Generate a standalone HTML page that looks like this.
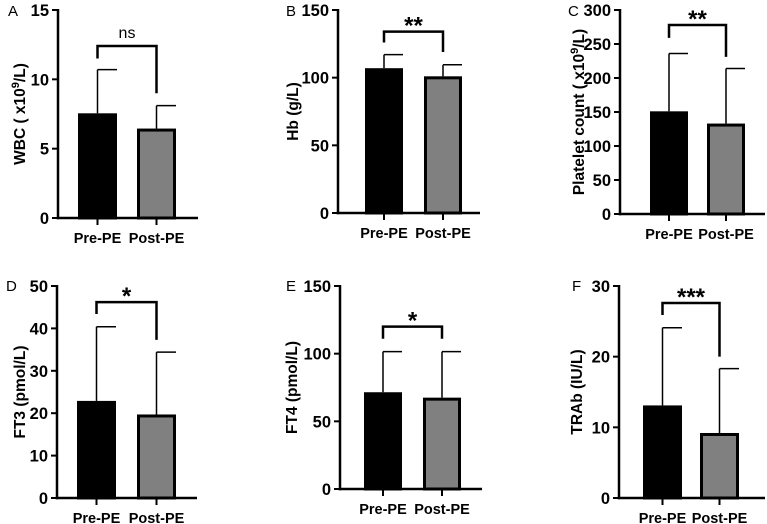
<!DOCTYPE html>
<html><head><meta charset="utf-8"><style>
body{margin:0;background:#fff}
svg{display:block;font-family:"Liberation Sans",Arial,sans-serif}
</style></head><body>
<svg id="fig" width="767" height="524" viewBox="0 0 767 524" xmlns="http://www.w3.org/2000/svg"></svg>
<script>
const categories = ["Pre-PE","Post-PE"];
const panelLetters = ["A","B","C","D","E","F"];
const yTitles = ["WBC ( x10^9/L)","Hb (g/L)","Platelet count ( x10^9/L)","FT3 (pmol/L)","FT4 (pmol/L)","TRAb (IU/L)"];
const yMaxes = [15,150,300,50,150,30];
const yTicks = [[0,5,10,15],[0,50,100,150],[0,50,100,150,200,250,300],[0,10,20,30,40,50],[0,50,100,150],[0,10,20,30]];
const meanValues = [[7.55,6.45],[107,101],[151,133],[22.9,19.7],[71.5,67.5],[13.1,9.2]];
const errorTops = [[10.7,8.1],[117,109.5],[236,214],[40.4,34.4],[101.5,101.5],[24.1,18.3]];
const sigLabels = ["ns","**","**","*","*","***"];
// bracket [top, leftEnd, rightEnd] in data units
const brackets = [[12.4,11.5,9.0],[134,126,119],[278,259,231],[46.2,43.4,37.3],[120,111,111],[27.6,25.9,20.0]];

// layout (pixels)
const L = [
 {ax:58, y0:218, yTop:10, b1:78, b2:137, bw:39, xEnd:198, tx:20, lx:8,  ly:16},
 {ax:338,y0:213, yTop:10, b1:365,b2:424, bw:38, xEnd:480, tx:293,lx:286,ly:16},
 {ax:620,y0:214, yTop:10, b1:650,b2:707, bw:38, xEnd:765, tx:579,lx:568,ly:16},
 {ax:57, y0:498, yTop:286,b1:77, b2:137, bw:39, xEnd:197, tx:20, lx:6,  ly:291},
 {ax:340,y0:489, yTop:286,b1:364,b2:423, bw:38, xEnd:482, tx:292,lx:286,ly:291},
 {ax:619,y0:498, yTop:286,b1:643,b2:700, bw:39, xEnd:765, tx:577,lx:572,ly:291}
];
const NS="http://www.w3.org/2000/svg";
const svg=document.getElementById('fig');
function mk(tag,attrs,parent){const e=document.createElementNS(NS,tag);for(const k in attrs)e.setAttribute(k,attrs[k]);(parent||svg).appendChild(e);return e;}

panelLetters.forEach((letter,i)=>{
  const g=mk('g',{});
  
  
  const p=L[i];
  const y=v=>p.y0-(v/yMaxes[i])*(p.y0-p.yTop);
  const lt=mk('text',{x:p.lx,y:p.ly,'font-size':15,fill:'#000'},g);lt.textContent=letter;
  
  
  const bx=[p.b1,p.b2], fills=['#000','#808080'];
  categories.forEach((c,j)=>{
    const cx=bx[j]+p.bw/2;
    const el=mk('line',{x1:cx,x2:cx,y1:y(meanValues[i][j]),y2:y(errorTops[i][j]),stroke:'#000','stroke-width':1.5},g);
    
    
    const cap=mk('line',{x1:cx,x2:cx+p.bw/2,y1:y(errorTops[i][j]),y2:y(errorTops[i][j]),stroke:'#000','stroke-width':1.5},g);
    
    
    const r=mk('rect',{x:bx[j]+1.5,y:y(meanValues[i][j])+1.5,width:p.bw-3,height:p.y0-y(meanValues[i][j])-1.5,fill:fills[j],stroke:'#000','stroke-width':3},g);
    
    
    mk('line',{x1:cx,x2:cx,y1:p.y0,y2:p.y0+7,stroke:'#000','stroke-width':2},g);
    const t=mk('text',{x:cx,y:p.y0+25,'font-size':14.5,'font-weight':'bold','text-anchor':'middle'},g);t.textContent=c;
    
    
  });
  const ya=mk('line',{x1:p.ax,x2:p.ax,y1:p.yTop-1,y2:p.y0+1.25,stroke:'#000','stroke-width':2.5},g);
  
  
  const xa=mk('line',{x1:p.ax-1.25,x2:p.xEnd,y1:p.y0,y2:p.y0,stroke:'#000','stroke-width':2.5},g);
  
  
  yTicks[i].forEach(v=>{
    mk('line',{x1:p.ax-6,x2:p.ax,y1:y(v),y2:y(v),stroke:'#000','stroke-width':2},g);
    const t=mk('text',{x:p.ax-9,y:y(v)+6,'font-size':16.5,'font-weight':'bold','text-anchor':'end'},g);t.textContent=v;
    
    
  });
  const cyT=(p.y0+p.yTop)/2;
  const tt=mk('text',{x:0,y:0,'font-size':15.5,'font-weight':'bold','text-anchor':'middle',transform:`translate(${p.tx+5},${cyT}) rotate(-90)`},g);
  
  
  const parts=yTitles[i].split('^');
  if(parts.length>1){
    const rest=parts[1].slice(1);
    tt.appendChild(document.createTextNode(parts[0]));
    const s=mk('tspan',{dy:-6,'font-size':11},tt);s.textContent=parts[1][0];
    const s2=mk('tspan',{dy:6},tt);s2.textContent=rest;
  } else tt.textContent=yTitles[i];
  const bk=brackets[i];
  const c1=p.b1+p.bw/2,c2=p.b2+p.bw/2;
  const br=mk('polyline',{points:`${c1},${y(bk[1])} ${c1},${y(bk[0])} ${c2},${y(bk[0])} ${c2},${y(bk[2])}`,fill:'none',stroke:'#000','stroke-width':2.5},g);
  
  
  const st=mk('text',{x:(c1+c2)/2,y:y(bk[0])-(sigLabels[i]==='ns'?8:-2),'font-size':sigLabels[i]==='ns'?16:24,'font-weight':sigLabels[i]==='ns'?'normal':'bold','text-anchor':'middle'},g);
  st.textContent=sigLabels[i];
  
  
});
</script>
</body></html>
